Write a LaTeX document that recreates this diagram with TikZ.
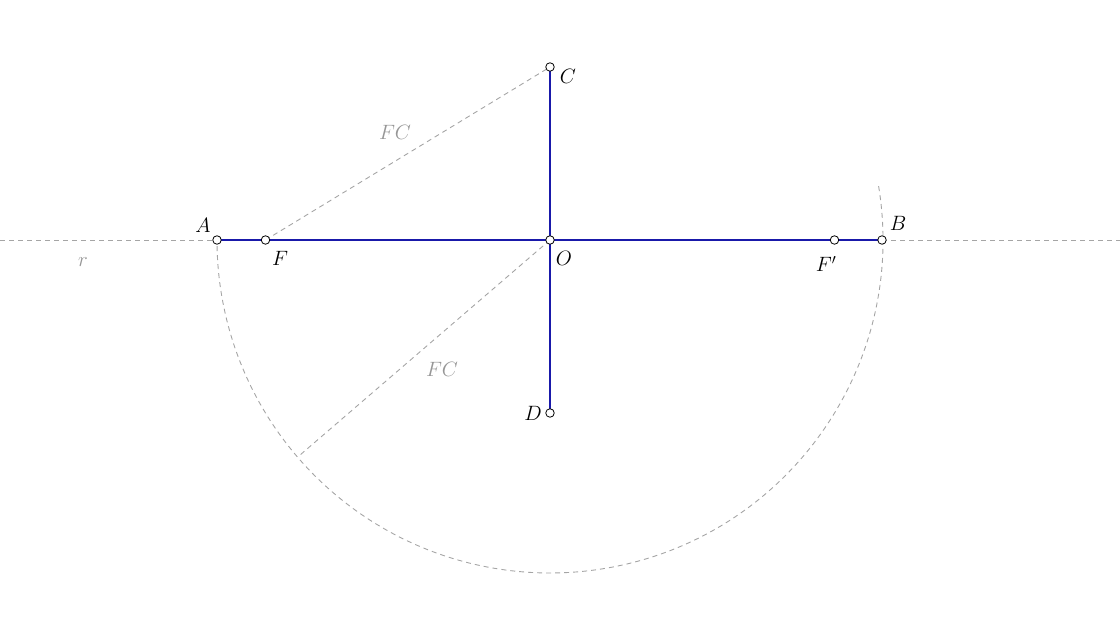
\documentclass[tikz,border=0pt]{standalone}
\usepackage{tikz}
\usetikzlibrary{calc}
\begin{document}
\begin{tikzpicture}[x=1pt,y=1pt,
  guide/.style={draw={rgb,255:red,165;green,165;blue,165}, line width=0.9pt, dash pattern=on 5pt off 4pt},
  seg/.style={draw={rgb,255:red,25;green,25;blue,170}, line width=2pt},
  pt/.style={circle, draw=black, fill=white, line width=0.8pt, minimum size=8.5pt, inner sep=0pt},
  lab/.style={font=\fontsize{20}{24}\selectfont, inner sep=0pt},
  glab/.style={lab, text={rgb,255:red,150;green,150;blue,150}}]
\useasboundingbox (0,0) rectangle (1120,630);
% coordinates (y up)
\coordinate (O) at (550,390);
\coordinate (A) at (217,390);
\coordinate (B) at (882,390);
\coordinate (F) at (265.5,390);
\coordinate (Fp) at (834.5,390);
\coordinate (C) at (550,563);
\coordinate (D) at (550,217);
\coordinate (P) at ($(O)+(-139.3:333)$);
\coordinate (rl) at (0,390);
\coordinate (rr) at (1120,390);
\coordinate (arcstart) at ($(O)+(9.3:333)$);
% guides
\path[guide] (rl) -- (rr);
\path[guide] (arcstart) arc[start angle=9.3, end angle=-180, radius=333];
\path[guide] (F) -- (C);
\path[guide] (O) -- (P);
% segments
\path[seg] (A) -- (B);
\path[seg] (C) -- (D);
% points
\node[pt] (nA) at (A) {};
\node[pt] (nB) at (B) {};
\node[pt] (nF) at (F) {};
\node[pt] (nFp) at (Fp) {};
\node[pt] (nO) at (O) {};
\node[pt] (nC) at (C) {};
\node[pt] (nD) at (D) {};
% labels
\node[lab] (lA) at (203,405) {$A$};
\node[lab] (lF) at (280,372) {$F$};
\node[lab] (lC) at (568,554) {$C$};
\node[lab] (lO) at (564,372) {$O$};
\node[lab] (lB) at (898,407) {$B$};
\node[lab] (lFp) at (826,366) {$F'$};
\node[lab] (lD) at (533,217) {$D$};
\node[glab] (lr) at (83,368) {$r$};
\node[glab] (lFC1) at (395,498) {$FC$};
\node[glab] (lFC2) at (442,261) {$FC$};
\end{tikzpicture}
\end{document}
